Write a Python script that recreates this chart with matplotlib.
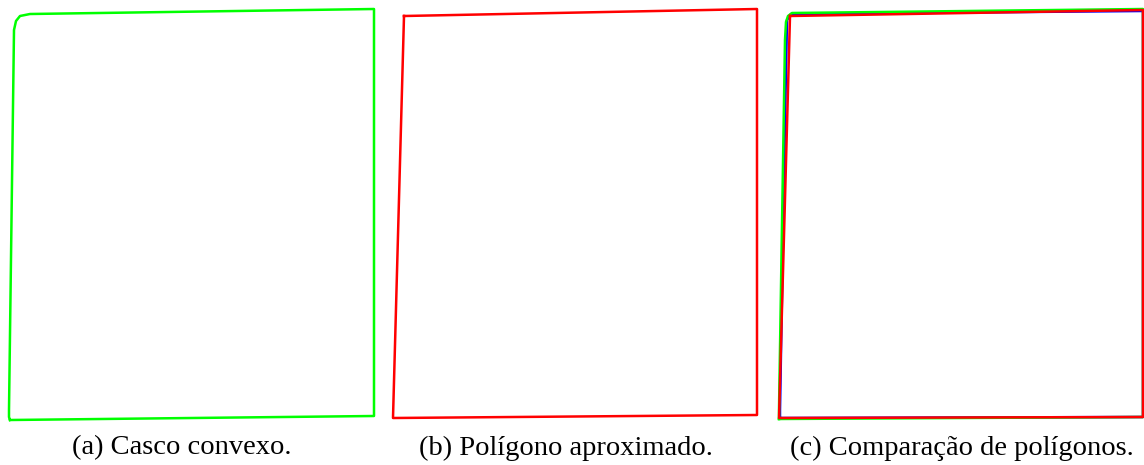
import matplotlib
matplotlib.use("Agg")
import matplotlib.pyplot as plt
import numpy as np

# vertices in image pixel coordinates (x right, y down) for each panel
hull_a_x = [10, 374, 374, 30, 20, 16, 14, 9, 9, 10]
hull_a_y = [420, 416, 9, 14, 16, 21, 30, 410, 417, 420]

approx_b_x = [19, 372, 372, 8, 19]
approx_b_y = [16, 9, 415, 418, 16]

hull_c_x = [3, 367, 367, 16, 12, 10, 9, 3, 3]
hull_c_y = [419, 417, 9, 13, 16, 22, 40, 410, 419]
mid_c_x = [4, 367, 367, 15, 11, 9, 4, 4]
mid_c_y = [418, 417, 11, 14, 20, 120, 410, 418]
approx_c_x = [14, 367, 367, 3, 14]
approx_c_y = [16, 10, 417, 418, 16]

captions = ["(a) Casco convexo.", "(b) Polígono aproximado.", "(c) Comparação de polígonos."]
caption_x = [182, 566, 962]

W, H = 1144, 465
fig = plt.figure(figsize=(W / 100, H / 100), dpi=100)

# panel extents in figure pixels: left, width
panels = [(0, 385), (385, 385), (776, 368)]
img_h = 425
axs = []
for left, width in panels:
    ax = fig.add_axes([left / W, 1 - img_h / H, width / W, img_h / H])
    ax.set_xlim(0, width)
    ax.set_ylim(img_h, 0)
    ax.axis("off")
    axs.append(ax)

green = "#00ff00"
red = "#ff0000"
blue = "#0000ff"
lw = 1.8

axs[0].plot(hull_a_x, hull_a_y, color=green, lw=lw)
axs[1].plot(approx_b_x, approx_b_y, color=red, lw=lw)
# blue underneath, green hull over it, approximation on top
axs[2].plot(mid_c_x, mid_c_y, color=blue, lw=lw)
axs[2].plot(hull_c_x, hull_c_y, color=green, lw=lw)
axs[2].plot(approx_c_x, approx_c_y, color=red, lw=lw)

for cx, txt in zip(caption_x, captions):
    fig.text(cx / W, 1 - 448 / H, txt, ha="center", va="center",
             fontsize=20.5, family=["Liberation Serif", "DejaVu Serif"])

fig.savefig("out.png", dpi=100)
